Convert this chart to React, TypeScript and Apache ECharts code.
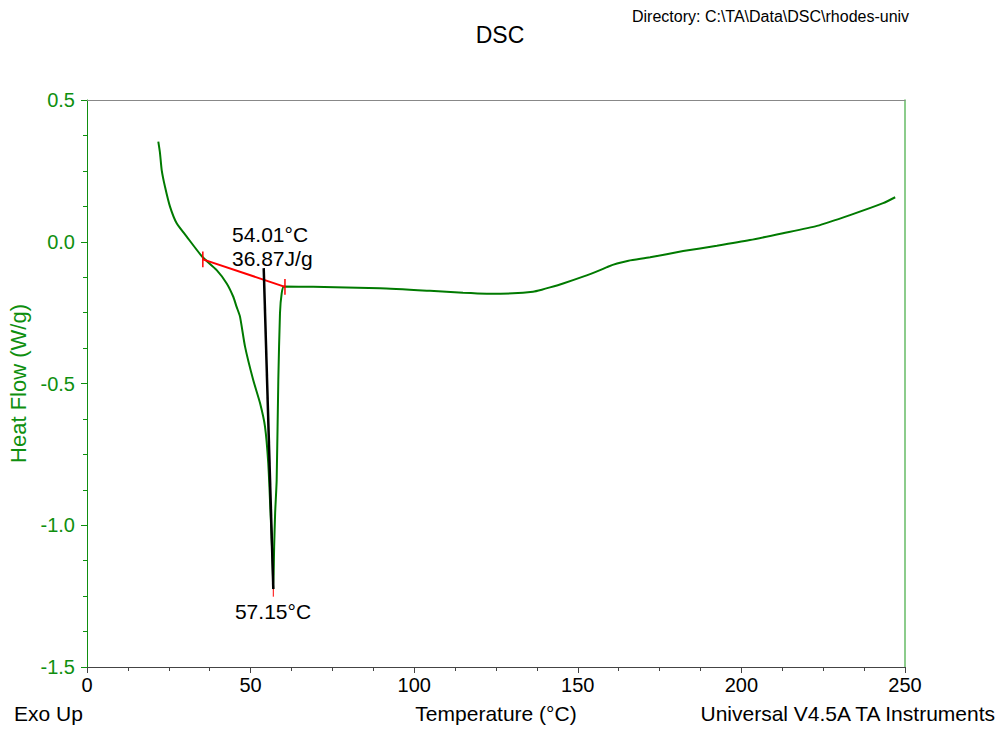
import React, { useEffect, useRef } from "react";
import * as echarts from "echarts";

// Main DSC curve: [Temperature °C, Heat Flow W/g]
const curveT = [21.79, 22.31, 22.83, 23.84, 25.37, 27.41, 30.47, 35.24, 39.64, 42.7, 44.71, 45.7, 46.76, 48.3, 50.8, 52.9, 54.4, 55.4, 56.1, 56.75, 56.94, 57.2, 57.5, 57.97, 58.47, 58.98, 59.5, 60.2, 69.1, 89.5, 104.8, 114.9, 122.2, 130.2, 136.3, 139.0, 141.5, 145.5, 151.6, 156.8, 159.2, 162.0, 165.5, 172.1, 182.2, 192.5, 202.6, 212.7, 223.1, 233.2, 243.3, 247.0];
const curveH = [0.353, 0.313, 0.253, 0.194, 0.124, 0.065, 0.018, -0.053, -0.1, -0.147, -0.194, -0.229, -0.264, -0.37, -0.488, -0.57, -0.652, -0.782, -0.958, -1.134, -1.225, -1.076, -0.957, -0.84, -0.488, -0.252, -0.182, -0.158, -0.159, -0.164, -0.173, -0.18, -0.183, -0.182, -0.176, -0.169, -0.161, -0.147, -0.123, -0.1, -0.088, -0.077, -0.067, -0.055, -0.033, -0.014, 0.006, 0.03, 0.056, 0.094, 0.136, 0.157];

// Integration baseline (red)
const baseT = [35.4, 60.5];
const baseH = [-0.062, -0.159];
// Onset tangent line (black)
const onsetT = [54.01, 56.94];
const onsetH = [-0.093, -1.225];
// Peak marker
const peakT = 56.94;
const peakH = [-1.225, -1.252];
const tickHalf = 0.028;

const xTicks = { min: 0, max: 250, interval: 50 };
const yTicks = { min: -1.5, max: 0.5, interval: 0.5 };

const GREEN = "#0f8f0f";
const CURVE = "#007a00";
const FONT = "Liberation Sans";

export default function App() {
  const ref = useRef<HTMLDivElement>(null);
  useEffect(() => {
    if (!ref.current) return;
    const chart = echarts.init(ref.current, null, { renderer: "svg" });
    const curve = curveT.map((t, i) => [t, curveH[i]]);
    const base = baseT.map((t, i) => [t, baseH[i]]);
    const onset = onsetT.map((t, i) => [t, onsetH[i]]);
    const lineSeries = (data: number[][], color: string, width: number) => ({
      type: "line",
      data,
      symbol: "none",
      lineStyle: { color, width },
      silent: true,
    });
    chart.setOption({
      animation: false,
      backgroundColor: "#ffffff",
      textStyle: { fontFamily: FONT },
      grid: { left: 87, right: 95, top: 100, bottom: 62, outerBoundsMode: "none" },
      title: {
        text: "DSC",
        left: "center",
        top: 18,
        textStyle: { fontFamily: FONT, fontSize: 23, fontWeight: "normal", color: "#000" },
      },
      xAxis: [
        {
          type: "value",
          min: xTicks.min,
          max: xTicks.max,
          interval: xTicks.interval,
          position: "bottom",
          name: "Temperature (°C)",
          nameLocation: "middle",
          nameGap: 36,
          nameTextStyle: { fontFamily: FONT, fontSize: 21, color: "#000" },
          axisLine: { show: true, onZero: false, lineStyle: { color: "#444", width: 1 } },
          axisTick: { show: true, inside: false, length: 6, lineStyle: { color: "#444" } },
          minorTick: { show: true, splitNumber: 4, length: 4, lineStyle: { color: "#444" } },
          axisLabel: { fontFamily: FONT, fontSize: 20, color: "#000", margin: 8 },
          splitLine: { show: false },
        },
        {
          type: "value",
          min: xTicks.min,
          max: xTicks.max,
          position: "top",
          axisLine: { show: true, onZero: false, lineStyle: { color: "#888", width: 1 } },
          axisTick: { show: false },
          axisLabel: { show: false },
          splitLine: { show: false },
        },
      ],
      yAxis: [
        {
          type: "value",
          min: yTicks.min,
          max: yTicks.max,
          interval: yTicks.interval,
          position: "left",
          name: "Heat Flow (W/g)",
          nameLocation: "middle",
          nameGap: 55,
          nameTextStyle: { fontFamily: FONT, fontSize: 22, color: GREEN },
          axisLine: { show: true, onZero: false, lineStyle: { color: GREEN, width: 1 } },
          axisTick: { show: true, inside: false, length: 6, lineStyle: { color: GREEN } },
          minorTick: { show: true, splitNumber: 4, length: 4, lineStyle: { color: GREEN } },
          axisLabel: {
            fontFamily: FONT,
            fontSize: 20,
            color: GREEN,
            margin: 12,
            formatter: (v: number) => v.toFixed(1),
          },
          splitLine: { show: false },
        },
        {
          type: "value",
          min: yTicks.min,
          max: yTicks.max,
          position: "right",
          axisLine: { show: true, onZero: false, lineStyle: { color: "#66bb66", width: 1.5 } },
          axisTick: { show: false },
          axisLabel: { show: false },
          splitLine: { show: false },
        },
      ],
      series: [
        {
          type: "line",
          data: curve,
          symbol: "none",
          smooth: 0.2,
          lineStyle: { color: CURVE, width: 2 },
          silent: true,
          z: 2,
        },
        { ...lineSeries(base, "#ff0000", 2), z: 3 },
        { ...lineSeries([[baseT[0], baseH[0] + tickHalf], [baseT[0], baseH[0] - tickHalf]], "#ff0000", 1.5), z: 3 },
        { ...lineSeries([[baseT[1], baseH[1] + tickHalf], [baseT[1], baseH[1] - tickHalf]], "#ff0000", 1.5), z: 3 },
        { ...lineSeries([[peakT, peakH[0]], [peakT, peakH[1]]], "#ff0000", 1), z: 3 },
        { ...lineSeries(onset, "#000000", 2.5), z: 4 },
      ],
      graphic: [
        {
          type: "text",
          left: 632,
          top: 8,
          style: { text: "Directory: C:\\TA\\Data\\DSC\\rhodes-univ", fontFamily: FONT, fontSize: 16, fill: "#000" },
        },
        {
          type: "text",
          x: 232,
          y: 224,
          style: { text: "54.01°C", fontFamily: FONT, fontSize: 21, fill: "#000" },
        },
        {
          type: "text",
          x: 232,
          y: 248,
          style: { text: "36.87J/g", fontFamily: FONT, fontSize: 21, fill: "#000" },
        },
        {
          type: "text",
          x: 273,
          y: 601,
          style: { text: "57.15°C", fontFamily: FONT, fontSize: 21, fill: "#000", align: "center" },
        },
        {
          type: "text",
          x: 14,
          y: 703,
          style: { text: "Exo Up", fontFamily: FONT, fontSize: 21, fill: "#000" },
        },
        {
          type: "text",
          x: 995,
          y: 703,
          style: { text: "Universal V4.5A TA Instruments", fontFamily: FONT, fontSize: 21, fill: "#000", align: "right" },
        },
      ],
    });
    return () => chart.dispose();
  }, []);
  return <div ref={ref} style={{ position: "fixed", left: 0, top: 0, width: 1000, height: 729 }} />;
}
